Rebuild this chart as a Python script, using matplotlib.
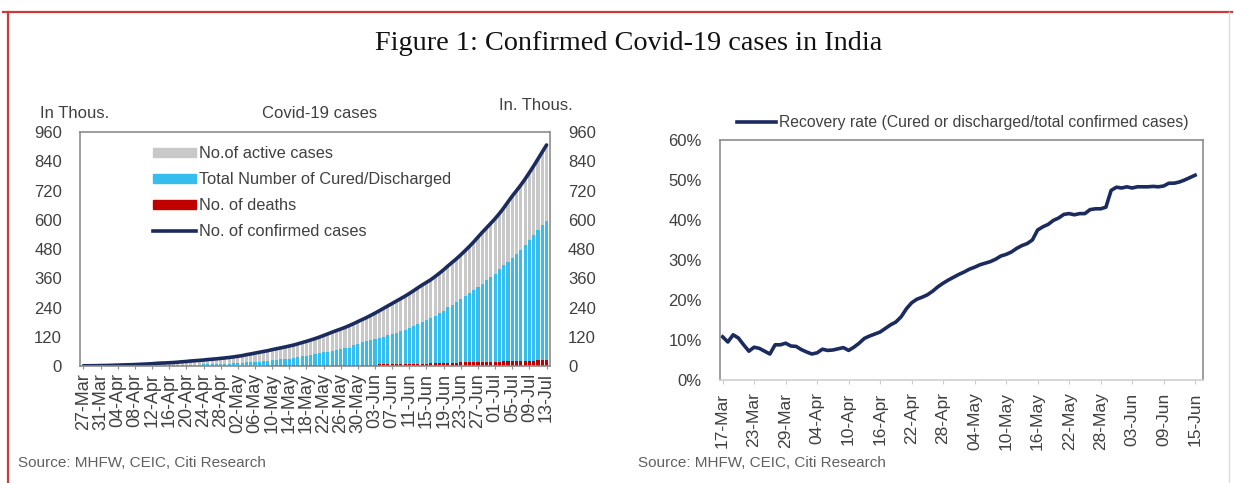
import matplotlib
matplotlib.use("Agg")
import matplotlib.pyplot as plt
from matplotlib.patches import Patch
from matplotlib.lines import Line2D
import numpy as np

############################################################
# data (thousands), daily 27-Mar .. 13-Jul
confirmed = [0.987, 1.024, 1.251, 1.397,
             1.834, 2.069, 2.547, 3.072, 3.577, 4.281, 4.789, 5.274, 5.865, 6.761,
             7.529, 8.447, 9.352, 10.815, 11.933, 12.380, 13.387, 14.378, 15.712, 17.265,
             18.601, 20.471, 21.700, 23.077, 24.506, 26.496, 27.892, 29.435, 31.332, 33.050,
             35.043, 37.336, 39.980, 42.533, 46.433, 49.391, 52.952, 56.342, 59.662, 62.939,
             67.152, 70.756, 74.281, 78.003, 81.970, 85.940, 90.927, 96.169, 101.139, 106.750,
             112.359, 118.447, 125.101, 131.868, 138.845, 145.380, 151.767, 158.333, 165.799,
             173.763, 182.143,
             190.535, 198.706, 207.615, 216.919, 226.770, 236.657, 246.628, 256.611, 266.598,
             276.583, 286.579, 297.535, 308.993, 320.922, 332.424, 343.091, 354.065, 366.946,
             380.532, 395.048, 410.461, 425.282, 440.215, 456.183, 473.105, 490.401, 508.953,
             528.859, 548.318, 566.840,
             585.493, 604.641, 625.544, 648.315, 673.165, 697.413, 719.665, 742.417, 767.296,
             793.802, 820.916, 849.553, 878.254, 906.752]

cured = [0.09, 0.10, 0.10, 0.12,
         0.14, 0.16, 0.19, 0.21, 0.27, 0.33, 0.38, 0.47, 0.51, 0.62, 0.77, 0.97, 1.08, 1.19,
         1.34, 1.51, 1.75, 2.01, 2.23, 2.84, 3.25, 3.95, 4.37, 5.01, 5.50, 5.94, 6.52, 7.03,
         7.70, 8.32,
         9.07, 10.02, 10.63, 11.76, 12.85, 14.18, 15.27, 16.54, 17.85, 19.36, 20.92, 22.55,
         24.39, 26.23, 27.92, 30.15, 34.11, 36.82, 39.17, 42.30, 45.30, 48.53, 51.78, 54.44,
         57.72, 60.49, 64.43, 67.69, 71.11, 82.37, 86.98,
         91.82, 95.53, 100.30, 104.11, 108.45, 114.07, 119.29, 124.09, 129.22, 134.67, 141.03,
         147.19, 154.33, 162.38, 169.80, 180.01, 186.93, 194.32, 204.71, 213.83, 227.76,
         237.20, 248.19, 258.69, 271.70, 285.64, 295.88, 309.71, 321.72, 334.82,
         347.98, 359.86, 379.89, 394.23, 409.08, 424.43, 439.95, 456.83, 476.38, 495.51,
         515.39, 534.62, 553.47, 571.46]

deaths = [0.024, 0.027, 0.032, 0.035,
          0.041, 0.056, 0.072, 0.075, 0.083, 0.111, 0.124, 0.149, 0.169, 0.206, 0.242, 0.273,
          0.324, 0.353, 0.392, 0.420, 0.452, 0.488, 0.519, 0.559, 0.590, 0.652, 0.686, 0.723,
          0.779, 0.826, 0.872, 0.934, 1.008, 1.075,
          1.147, 1.218, 1.301, 1.373, 1.568, 1.694, 1.783, 1.886, 1.981, 2.109, 2.206, 2.293,
          2.415, 2.549, 2.649, 2.752, 2.872, 3.029, 3.163, 3.303, 3.435, 3.583, 3.720, 3.867,
          4.021, 4.167, 4.337, 4.531, 4.706, 4.971, 5.164,
          5.394, 5.598, 5.815, 6.075, 6.348, 6.642, 6.929, 7.135, 7.466, 7.745, 8.102, 8.498,
          8.884, 9.195, 9.520, 9.900, 11.903, 12.237, 12.573, 12.948, 13.254, 13.699, 14.011,
          14.476, 14.894, 15.301, 15.685, 16.095, 16.475, 16.893,
          17.400, 17.834, 18.213, 18.655, 19.268, 19.693, 20.160, 20.642, 21.129, 21.604,
          22.123, 22.674, 23.174, 23.727]

cases_ticklabels = ['27-Mar', '31-Mar', '04-Apr', '08-Apr', '12-Apr', '16-Apr', '20-Apr',
                    '24-Apr', '28-Apr', '02-May', '06-May', '10-May', '14-May', '18-May',
                    '22-May', '26-May', '30-May', '03-Jun', '07-Jun', '11-Jun', '15-Jun',
                    '19-Jun', '23-Jun', '27-Jun', '01-Jul', '05-Jul', '09-Jul', '13-Jul']

# recovery rate (%), daily 17-Mar .. 15-Jun
recovery = [10.8, 9.5, 11.3, 10.5, 8.8, 7.2, 8.2, 7.9, 7.2, 6.5,
            8.8, 8.8, 9.2, 8.5, 8.4, 7.6, 7.0, 6.5, 6.8, 7.7,
            7.4, 7.5, 7.8, 8.1, 7.4, 8.2, 9.2, 10.4, 11.0, 11.5,
            12.0, 12.9, 13.8, 14.5, 15.8, 17.8, 19.3, 20.2, 20.7, 21.3,
            22.2, 23.3, 24.2, 25.0, 25.7, 26.4, 27.0, 27.7, 28.2, 28.8,
            29.2, 29.6, 30.2, 31.0, 31.4, 32.0, 32.9, 33.6, 34.1, 35.0,
            37.5, 38.3, 38.9, 39.9, 40.5, 41.4, 41.6, 41.3, 41.6, 41.6,
            42.6, 42.8, 42.8, 43.2, 47.4, 48.2, 48.0, 48.3, 48.0, 48.3,
            48.3, 48.3, 48.4, 48.3, 48.5, 49.2, 49.2, 49.5, 50.0, 50.6,
            51.2]

recovery_ticklabels = ['17-Mar', '23-Mar', '29-Mar', '04-Apr', '10-Apr', '16-Apr', '22-Apr',
                       '28-Apr', '04-May', '10-May', '16-May', '22-May', '28-May', '03-Jun',
                       '09-Jun', '15-Jun']

############################################################
SANS = ['Liberation Sans Narrow', 'Liberation Sans', 'DejaVu Sans']
GREY_TXT = '#404040'
FRAME = '#8c8c8c'
NAVY = '#1c2b5e'

W, H = 1234, 483

def fx(px):
    return px / W

def fy(py):
    return 1 - py / H

fig = plt.figure(figsize=(W / 100, H / 100), dpi=100)

# red border of the figure box
fig.add_artist(Line2D([fx(3), fx(1232)], [fy(12), fy(12)], color='#cc3b3b', lw=1.6))
fig.add_artist(Line2D([fx(8), fx(8)], [fy(12), fy(483)], color='#cc3b3b', lw=1.6))
fig.add_artist(Line2D([fx(1229), fx(1229)], [fy(12), fy(483)], color='#dddddd', lw=1.0))

fig.text(fx(629), fy(43), 'Figure 1: Confirmed Covid-19 cases in India',
         family=['Liberation Serif', 'DejaVu Serif'], fontsize=20.3, ha='center',
         va='center', color='#111111')

#left chart: stacked bars + confirmed line
############################################################
ax1 = fig.add_axes([fx(80), fy(366), fx(550) - fx(80), fy(132) - fy(366)])
x = np.arange(len(confirmed))
conf = np.array(confirmed)
cur = np.array(cured)
dea = np.array(deaths)
active = conf - cur - dea

ax1.bar(x, dea, width=0.72, color='#c00000', linewidth=0)
ax1.bar(x, cur, width=0.72, bottom=dea, color='#35bdee', linewidth=0)
ax1.bar(x, active, width=0.72, bottom=dea + cur, color='#c8c8c8', linewidth=0)
ax1.plot(x, conf, color=NAVY, lw=2.6, solid_capstyle='round')

ax1.set_xlim(-0.8, len(x) - 0.2)
ax1.set_ylim(0, 960)
ax1.set_yticks(np.arange(0, 961, 120))
ax1.set_xticks(x[::4])
ax1.set_xticklabels(cases_ticklabels, rotation=90, family=SANS, fontsize=13,
                    color=GREY_TXT)
ax1.tick_params(axis='x', length=2, color=FRAME, pad=3)
ax1.tick_params(axis='y', length=0, pad=13, labelsize=12, labelcolor=GREY_TXT)
for lab in ax1.get_yticklabels():
    lab.set_family(SANS)
for s in ax1.spines.values():
    s.set_color(FRAME)
    s.set_linewidth(1.2)

ax1r = ax1.twinx()
ax1r.set_ylim(0, 960)
ax1r.set_yticks(np.arange(0, 961, 120))
ax1r.tick_params(axis='y', length=0, pad=13, labelsize=12, labelcolor=GREY_TXT)
for lab in ax1r.get_yticklabels():
    lab.set_family(SANS)
for s in ax1r.spines.values():
    s.set_visible(False)

fig.text(fx(40), fy(113), 'In Thous.', family=SANS, fontsize=12, color=GREY_TXT,
         va='center')
fig.text(fx(320), fy(113), 'Covid-19 cases', family=SANS, fontsize=12, color=GREY_TXT,
         va='center', ha='center')
fig.text(fx(499), fy(106), 'In. Thous.', family=SANS, fontsize=12, color=GREY_TXT,
         va='center')

handles = [Patch(color='#c8c8c8'), Patch(color='#35bdee'), Patch(color='#c00000'),
           Line2D([], [], color=NAVY, lw=2.6)]
labels = ['No.of active cases', 'Total Number of Cured/Discharged', 'No. of deaths',
          'No. of confirmed cases']
fig.legend(handles, labels, loc='upper left', bbox_to_anchor=(fx(153), fy(146)),
           frameon=False, borderpad=0, borderaxespad=0, handlelength=2.6,
           handleheight=0.5, handletextpad=0.2, labelspacing=0.68,
           prop={'family': SANS, 'size': 11.8}, labelcolor=GREY_TXT)

fig.text(fx(18), fy(463), 'Source: MHFW, CEIC, Citi Research', family=SANS,
         fontsize=11, color='#606060', va='center')

#right chart: recovery rate
############################################################
ax2 = fig.add_axes([fx(720), fy(380), fx(1203) - fx(720), fy(140) - fy(380)])
xr = np.arange(len(recovery))
ax2.plot(xr, np.array(recovery) / 100, color=NAVY, lw=2.6)
ax2.set_xlim(-0.5, len(xr) + 0.5)
ax2.set_ylim(0, 0.6)
ax2.set_yticks(np.arange(0, 0.61, 0.1))
ax2.set_yticklabels(['%d%%' % round(v * 100) for v in np.arange(0, 0.61, 0.1)],
                    family=SANS, fontsize=12, color=GREY_TXT)
ax2.set_xticks(xr[::6])
ax2.set_xticklabels(recovery_ticklabels, rotation=90, family=SANS, fontsize=12.5,
                    color=GREY_TXT)
ax2.tick_params(axis='x', length=3, color='#cccccc', pad=6)
ax2.tick_params(axis='y', length=0, pad=13)
for s in ax2.spines.values():
    s.set_color(FRAME)
    s.set_linewidth(1.2)
ax2.spines['bottom'].set_color('#d0d0d0')

ax2.legend([Line2D([], [], color=NAVY, lw=2.6)],
           ['Recovery rate (Cured or discharged/total confirmed cases)'],
           loc='upper left', bbox_to_anchor=(fx(737), fy(115)),
           bbox_transform=fig.transFigure, frameon=False, borderpad=0, borderaxespad=0,
           handlelength=2.5, handletextpad=0.15, prop={'family': SANS, 'size': 11.3},
           labelcolor=GREY_TXT)

fig.text(fx(638), fy(463), 'Source: MHFW, CEIC, Citi Research', family=SANS,
         fontsize=11, color='#606060', va='center')

fig.savefig('out.png', dpi=100, facecolor='white')
